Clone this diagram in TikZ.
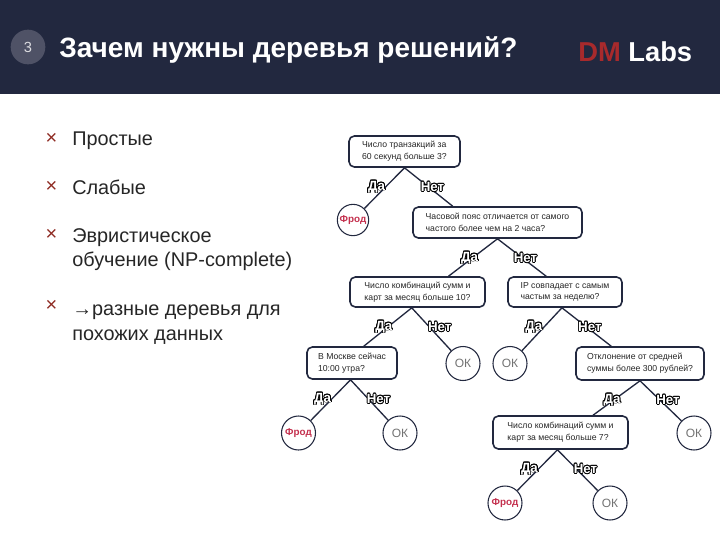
\documentclass[tikz,border=0pt]{standalone}
\usepackage{xcolor}
\usepackage{fontspec}
\setmainfont{Liberation Sans}
\usepackage[copies]{contour}
\usetikzlibrary{positioning, calc}
\definecolor{headbg}{HTML}{22283F}
\definecolor{badgebg}{HTML}{4F5266}
\definecolor{crossred}{HTML}{8E2A22}
\definecolor{fraudred}{HTML}{C4304E}
\definecolor{brandred}{HTML}{A82A2C}
\contourlength{0.6pt}
\tikzset{
  qbox/.style={draw=headbg, line width=1.2pt, rounded corners=4pt, fill=white, inner sep=0pt,
    align=left, font=\fontsize{6.5}{8.8}\selectfont, text=black!85, execute at begin node=\rule{0pt}{7pt}},
  leaf/.style={draw=headbg, line width=0.8pt, circle, fill=white, minimum size=25.5pt, inner sep=0pt},
  fraud/.style={leaf, text=fraudred, font=\fontsize{7.4}{8}\selectfont\bfseries},
  okleaf/.style={leaf, text=black!55, font=\fontsize{9}{10}\selectfont},
  branch/.style={draw=headbg, line width=1pt},
  branchlbl/.style={font=\fontsize{10}{10}\selectfont\bfseries, inner sep=0pt},
  crossmark/.style={text=crossred, font=\fontsize{15}{15}\selectfont, inner sep=0pt},
  bullettext/.style={anchor=north west, align=left, inner sep=0pt, text=black!85, font=\fontsize{14.9}{18.2}\selectfont}
}
\newcommand{\outlbl}[1]{\contour{black}{\textcolor{white}{#1}}}
\begin{document}
\begin{tikzpicture}[x=0.75pt,y=-0.75pt]
\useasboundingbox (0,0) rectangle (720,540);

% header
\fill[headbg] (0,0) rectangle (720,93.5);
\node[circle, fill=badgebg, minimum size=26pt, inner sep=0pt, text=white!80!badgebg, font=\fontsize{11}{12}\selectfont] (badge) at (28,47) {3};
\node[anchor=west, inner sep=0pt, text=white, font=\fontsize{21}{24}\selectfont\bfseries] (title) at (59,50) {Зачем нужны деревья решений?};
\node[anchor=west, inner sep=0pt, text=white, font=\fontsize{20.5}{24}\selectfont\bfseries] (brand) at (578,52) {\textcolor{brandred}{DM} Labs};

% bullets
\foreach \name/\ycross/\y/\txt in {
  a/138.5/132/{Простые},
  b/186.5/180/{Слабые},
  c/234.5/228/{Эвристическое\\обучение (NP-complete)},
  d/306/305/{→разные деревья для\\похожих данных}}
{
  \node[crossmark] (cross\name) at (51.5,\ycross) {×};
  \node[bullettext] (item\name) at (72,\y) {\txt};
}

% question boxes
\foreach \name/\x/\y/\w/\h/\txt in {
  qa/404.5/151.5/111/31/{Число транзакций за\\60 секунд больше 3?},
  qb/497.5/222.5/169/31/{Часовой пояс отличается от самого\\частого более чем на 2 часа?},
  qc/417.5/292/135/30/{Число комбинаций сумм и\\карт за месяц больше 10?},
  qd/565/292/114/30/{IP совпадает с самым\\частым за неделю?},
  qe/352/363/90/32/{В Москве сейчас\\10:00 утра?},
  qf/640/363.5/128/33/{Отклонение от средней\\суммы более 300 рублей?},
  qg/560.5/432.5/135/33/{Число комбинаций сумм и\\карт за месяц больше 7?}}
{
  \node[qbox, minimum width=\w*0.75pt, minimum height=\h*0.75pt] (\name) at (\x,\y) {\txt};
}

% leaves
\node[fraud, minimum size=23.5pt] (fa) at (353,220) {Фрод};
\foreach \name/\x/\y in {fb/298.5/433, fc/505/503}
  \node[fraud] (\name) at (\x,\y) {Фрод};
\foreach \name/\x/\y in {oa/463/363.5, ob/510/363.5, oc/400/433, od/694/433, oe/610/503}
  \node[okleaf] (\name) at (\x,\y) {ОК};

% branches, yes to the left and no to the right
\foreach \k/\from/\yes/\no in {
  a/qa.south/fa/qb.160,
  b/qb.south/qc.27/qd.140,
  c/qc.-110/qe.55/oa,
  d/qd.-101/ob/qf.149,
  e/qe.-95/fb/oc,
  f/qf.south/qg.28/od,
  g/qg.-100/fc/oe}
{
  \draw[branch] (\yes) -- (\from) -- (\no);
  \node[branchlbl] (yes\k) at ($(\from)+(-28,19.5)$) {\outlbl{Да}};
  \node[branchlbl] (no\k) at ($(\from)+(28,19.5)$) {\outlbl{Нет}};
}
\end{tikzpicture}
\end{document}
